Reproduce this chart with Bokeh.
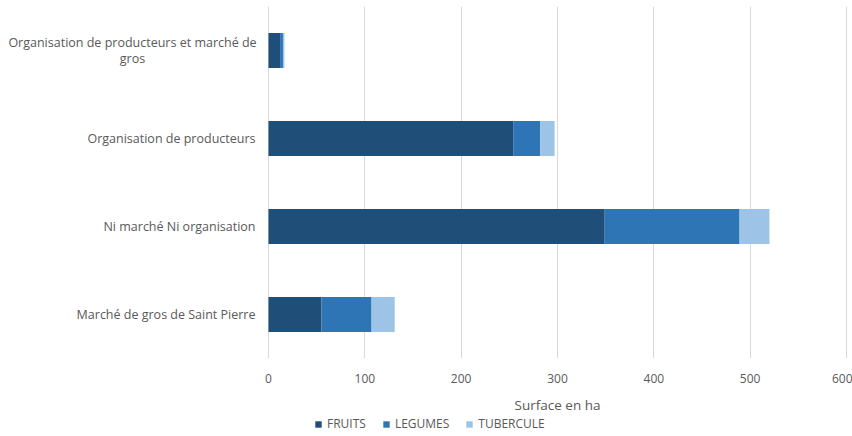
from bokeh.plotting import figure
from bokeh.layouts import column
from bokeh.models import ColumnDataSource, Legend, LegendItem, FixedTicker, Range1d
from bokeh.core.properties import value
from bokeh.embed import file_html
from bokeh.resources import INLINE

categories = [
    "Marché de gros de Saint Pierre",
    "Ni marché Ni organisation",
    "Organisation de producteurs",
    "Organisation de producteurs et marché de gros",
]
# wrapped category labels, one list of lines per category
category_lines = [
    ["Marché de gros de Saint Pierre"],
    ["Ni marché Ni organisation"],
    ["Organisation de producteurs"],
    ["Organisation de producteurs et marché de", "gros"],
]
series = ["FRUITS", "LEGUMES", "TUBERCULE"]
fruits = [55, 349, 254, 12]
legumes = [52, 140, 28, 3]
tubercule = [24, 31, 15, 1.5]
colors = ["#1F4E79", "#2E75B6", "#9DC3E6"]
x_ticks = [0, 100, 200, 300, 400, 500, 600]
x_title = "Surface en ha"

FONT = "Open Sans"
GREY = "#595959"

W = 852
MAIN_H, STRIP_H = 388, 48
PLOT_LEFT, PLOT_RIGHT = 268, 846      # pixel span of the 0..600 value axis
X_MAX = 600
px_per_unit = (PLOT_RIGHT - PLOT_LEFT) / X_MAX
x_range = Range1d(-PLOT_LEFT / px_per_unit, (W - PLOT_LEFT) / px_per_unit)

source = ColumnDataSource(dict(cat=categories, FRUITS=fruits, LEGUMES=legumes, TUBERCULE=tubercule))

# ---- main chart: stacked horizontal bars ---------------------------------
p = figure(
    width=W, height=MAIN_H,
    y_range=categories, x_range=x_range,
    output_backend="svg", toolbar_location=None,
    min_border_left=0, min_border_right=0, min_border_top=6, min_border_bottom=30,
)

p.hbar_stack(series, y="cat", height=0.4, color=colors, source=source, line_color=None)

# category labels, drawn to the left of the zero line
single_y, single_t = [], []
multi_y, multi_t, multi_off = [], [], []
for cat, lines in zip(categories, category_lines):
    if len(lines) == 1:
        single_y.append(cat)
        single_t.append(lines[0])
    else:
        n = len(lines)
        for i, line in enumerate(lines):
            multi_y.append(cat)
            multi_t.append(line)
            multi_off.append((i - (n - 1) / 2) * 16)

p.text(x=0, y=single_y, text=single_t, x_offset=-13, text_align="right",
       text_baseline="middle", text_font=value(FONT), text_font_size="12.5px",
       text_color=GREY)
p.text(x=0, y=multi_y, text=multi_t, x_offset=-136, y_offset=multi_off,
       text_align="center", text_baseline="middle", text_font=value(FONT),
       text_font_size="12.5px", text_color=GREY)

p.yaxis.visible = False

p.xaxis.ticker = FixedTicker(ticks=x_ticks)
p.xaxis.major_label_text_font = FONT
p.xaxis.major_label_text_font_size = "12px"
p.xaxis.major_label_text_color = GREY
p.xaxis.major_label_standoff = 9
p.xaxis.axis_line_color = None
p.xaxis.major_tick_line_color = None
p.xaxis.minor_tick_line_color = None

p.xgrid.grid_line_color = "#D9D9D9"
p.xgrid.grid_line_width = 1
p.ygrid.grid_line_color = None
p.outline_line_color = None

# ---- strip below: axis title and legend ------------------------------------
s = figure(
    width=W, height=STRIP_H,
    x_range=x_range, y_range=Range1d(0, STRIP_H),
    x_axis_type=None, y_axis_type=None,
    output_backend="svg", toolbar_location=None,
    min_border_left=0, min_border_right=0, min_border_top=0, min_border_bottom=0,
)
s.grid.visible = False
s.outline_line_color = None

s.text(x=[X_MAX / 2], y=[STRIP_H - 16], text=[x_title], text_align="center",
       text_baseline="middle", text_font=value(FONT), text_font_size="13.5px",
       text_color=GREY)

# hidden one-row renderers that only supply the legend swatches
keys = [s.hbar(y=[0], left=[0], right=[0], height=0, color=c, line_color=None,
               visible=False) for c in colors]

legend = Legend(
    items=[LegendItem(label=name, renderers=[r]) for name, r in zip(series, keys)],
    orientation="horizontal",
    location=(314, 4),
    label_text_font=FONT,
    label_text_font_size="12px",
    label_text_color=GREY,
    glyph_width=8, glyph_height=8,
    label_height=14,
    label_standoff=5, spacing=16,
    padding=0, margin=0,
    background_fill_alpha=0, border_line_color=None,
)
s.add_layout(legend, "center")

open("out.html", "w").write(file_html(column(p, s, spacing=0), INLINE))
